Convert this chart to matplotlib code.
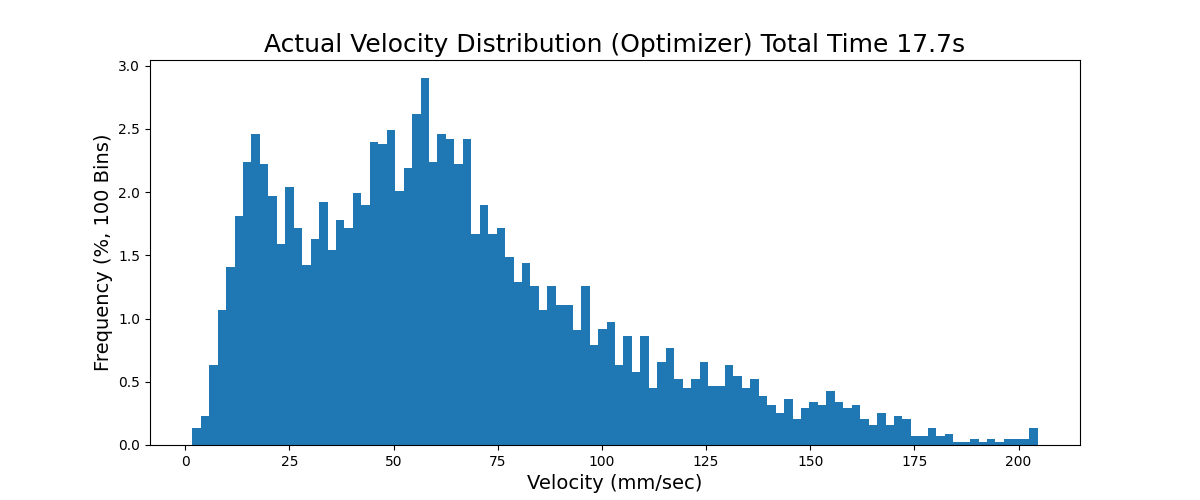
import numpy as np
import matplotlib
matplotlib.use('Agg')
import matplotlib.pyplot as plt

# Velocity range covered by the 100 bins (mm/sec)
v_min = 1.7
v_max = 204.6

# Frequency (%) per bin
freq = [
    0.134, 0.229, 0.63, 1.066, 1.405, 1.81, 2.24, 2.46, 2.22, 1.97,
    1.59, 2.04, 1.72, 1.42, 1.63, 1.92, 1.54, 1.78, 1.72, 1.99,
    1.90, 2.40, 2.38, 2.49, 2.01, 2.19, 2.62, 2.90, 2.24, 2.46,
    2.42, 2.22, 2.42, 1.67, 1.90, 1.67, 1.72, 1.49, 1.29, 1.44,
    1.26, 1.07, 1.26, 1.105, 1.105, 0.91, 1.26, 0.79, 0.92, 0.97,
    0.63, 0.86, 0.58, 0.86, 0.45, 0.655, 0.766, 0.52, 0.45, 0.52,
    0.655, 0.47, 0.47, 0.63, 0.545, 0.45, 0.52, 0.39, 0.316, 0.25,
    0.36, 0.205, 0.29, 0.34, 0.316, 0.426, 0.34, 0.29, 0.316, 0.205,
    0.158, 0.25, 0.158, 0.229, 0.205, 0.071, 0.071, 0.134, 0.071, 0.087,
    0.024, 0.024, 0.047, 0.024, 0.047, 0.024, 0.047, 0.047, 0.047, 0.134,
]

n_bins = len(freq)
edges = np.linspace(v_min, v_max, n_bins + 1)
centers = (edges[:-1] + edges[1:]) / 2

fig, ax = plt.subplots(figsize=(12, 5), dpi=100)
ax.hist(centers, bins=edges, weights=freq, color='#1f77b4')
ax.set_title('Actual Velocity Distribution (Optimizer) Total Time 17.7s', fontsize=18)
ax.set_xlabel('Velocity (mm/sec)', fontsize=14)
ax.set_ylabel('Frequency (%, 100 Bins)', fontsize=14)

plt.savefig('out.png')
